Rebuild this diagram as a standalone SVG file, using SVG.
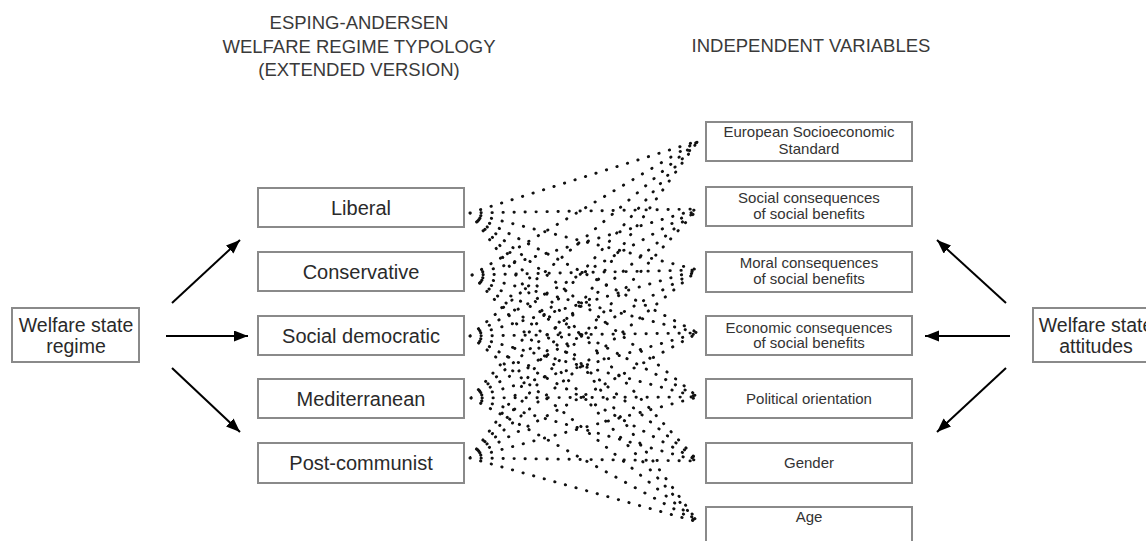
<svg xmlns="http://www.w3.org/2000/svg" width="1146" height="541" viewBox="0 0 1146 541">
<style>
.box{fill:#fff;stroke:#8a8a8a;stroke-width:2}
.hdr{font-family:"Liberation Sans",Arial,sans-serif;font-size:18.5px;fill:#3a3a3a;text-anchor:middle}
.reg{font-family:"Liberation Sans",Arial,sans-serif;font-size:20px;fill:#2a2a2a;text-anchor:middle}
.var{font-family:"Liberation Sans",Arial,sans-serif;font-size:15px;fill:#333;text-anchor:middle}
.side{font-family:"Liberation Sans",Arial,sans-serif;font-size:19.5px;fill:#2a2a2a;text-anchor:middle}
.arr{stroke:#000;stroke-width:2;fill:none;marker-end:url(#ah)}
.dot{stroke:#111;stroke-width:2.9;stroke-linecap:round;stroke-dasharray:0.3 10.7;fill:none}
</style>
<defs>
<marker id="ah" markerUnits="userSpaceOnUse" markerWidth="16" markerHeight="12" refX="14" refY="5.5" orient="auto">
<path d="M0,0 L14,5.5 L0,11 z" fill="#000"/>
</marker>
</defs>
<rect width="1146" height="541" fill="#fff"/>
<g id="headers">
<text class="hdr" x="359" y="29">ESPING-ANDERSEN</text>
<text class="hdr" x="359" y="53">WELFARE REGIME TYPOLOGY</text>
<text class="hdr" x="359" y="76">(EXTENDED VERSION)</text>
<text class="hdr" x="811" y="52">INDEPENDENT VARIABLES</text>
</g>
<g id="connectors">
<line class="arr" x1="172" y1="303" x2="240" y2="240"/>
<line class="arr" x1="166" y1="336" x2="248" y2="336"/>
<line class="arr" x1="172" y1="368" x2="240" y2="432"/>
<line class="arr" x1="1006" y1="303" x2="937" y2="240"/>
<line class="arr" x1="1010" y1="336" x2="925" y2="336"/>
<line class="arr" x1="1006" y1="368" x2="937" y2="432"/>
<g id="dotted">
<path class="dot" d="M470,213L698,141M470,213L698,209M470,213L698,270M470,213L698,333M470,213L698,397M470,213L698,461M470,213L698,522"/>
<path class="dot" d="M472,275L698,141M472,275L698,209M472,275L698,270M472,275L698,333M472,275L698,397M472,275L698,461M472,275L698,522"/>
<path class="dot" d="M470,336L698,141M470,336L698,209M470,336L698,270M470,336L698,333M470,336L698,397M470,336L698,461M470,336L698,522"/>
<path class="dot" d="M471,398L698,141M471,398L698,209M471,398L698,270M471,398L698,333M471,398L698,397M471,398L698,461M471,398L698,522"/>
<path class="dot" d="M470,458L698,141M470,458L698,209M470,458L698,270M470,458L698,333M470,458L698,397M470,458L698,461M470,458L698,522"/>
</g>
</g>
<g id="regime">
<rect class="box" x="12" y="308" width="127" height="54"/>
<text class="side" x="76" y="332">Welfare state</text>
<text class="side" x="76" y="353">regime</text>
</g>
<g id="attitudes">
<rect class="box" x="1033" y="308" width="130" height="54"/>
<text class="side" x="1096" y="332">Welfare state</text>
<text class="side" x="1096" y="353">attitudes</text>
</g>
<g id="liberal"><rect class="box" x="258" y="188" width="206" height="39"/><text class="reg" x="361" y="215">Liberal</text></g>
<g id="conservative"><rect class="box" x="258" y="252" width="206" height="39"/><text class="reg" x="361" y="279">Conservative</text></g>
<g id="socialdemocratic"><rect class="box" x="258" y="316" width="206" height="39"/><text class="reg" x="361" y="343">Social democratic</text></g>
<g id="mediterranean"><rect class="box" x="258" y="379" width="206" height="39"/><text class="reg" x="361" y="406">Mediterranean</text></g>
<g id="postcommunist"><rect class="box" x="258" y="443" width="206" height="40"/><text class="reg" x="361" y="470">Post-communist</text></g>
<g id="european"><rect class="box" x="706" y="122" width="206" height="39"/><text class="var" x="809" y="137">European Socioeconomic</text><text class="var" x="809" y="154">Standard</text></g>
<g id="social"><rect class="box" x="706" y="187" width="206" height="39"/><text class="var" x="809" y="203">Social consequences</text><text class="var" x="809" y="219">of social benefits</text></g>
<g id="moral"><rect class="box" x="706" y="252" width="206" height="40"/><text class="var" x="809" y="268">Moral consequences</text><text class="var" x="809" y="284">of social benefits</text></g>
<g id="economic"><rect class="box" x="706" y="316" width="206" height="39"/><text class="var" x="809" y="333">Economic consequences</text><text class="var" x="809" y="348">of social benefits</text></g>
<g id="political"><rect class="box" x="706" y="379" width="206" height="39"/><text class="var" x="809" y="404">Political orientation</text></g>
<g id="gender"><rect class="box" x="706" y="443" width="206" height="40"/><text class="var" x="809" y="468">Gender</text></g>
<g id="age"><rect class="box" x="706" y="507" width="206" height="40"/><text class="var" x="809" y="522">Age</text></g>
</svg>
